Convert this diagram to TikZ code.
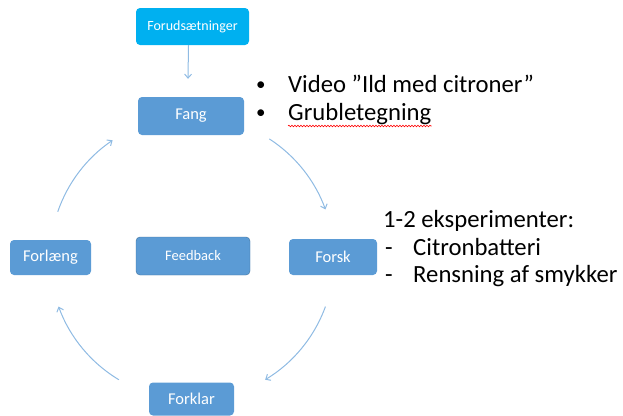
\documentclass[tikz,border=0pt]{standalone}
\usepackage{fontspec}
\setmainfont{Carlito}
\usepackage{xcolor}
\usetikzlibrary{shapes.geometric, arrows.meta, decorations.pathmorphing}
\definecolor{boxblue}{HTML}{5B9BD5}
\definecolor{topblue}{HTML}{00B0F0}
\definecolor{edgeblue}{HTML}{41719C}
\definecolor{lineblue}{HTML}{8FBBE3}
\tikzstyle{phase} = [rectangle, rounded corners=4pt, minimum width=86pt, minimum height=35pt, text centered, fill=boxblue, text=white, font=\fontsize{16.5}{18}\selectfont]
\tikzstyle{startbox} = [rectangle, rounded corners=4pt, minimum width=113pt, minimum height=37pt, text centered, fill=topblue, text=white, font=\fontsize{14}{16}\selectfont]
\tikzstyle{hubbox} = [phase, draw=edgeblue, minimum width=114pt, minimum height=38pt, font=\fontsize{14.5}{16}\selectfont]
\tikzstyle{notes} = [anchor=base west, inner sep=0pt, font=\fontsize{24.7}{28}\selectfont]
\tikzstyle{dot} = [notes, font=\fontsize{19}{22}\selectfont]
\tikzstyle{arrow} = [line width=1pt, draw=lineblue, -{Straight Barb[length=4pt,width=7pt]}]

\begin{document}
\begin{tikzpicture}[x=1pt, y=1pt]
  \useasboundingbox (0,0) rectangle (623,-415);

  \node (forud)    [startbox] at (192.5,-26.5) {Forudsætninger};
  \node (fang)     [phase, minimum width=106pt, minimum height=38pt] at (191,-116) {Fang};
  \node (forsk)    [phase, minimum width=88pt, minimum height=36pt] at (333,-257) {Forsk};
  \node (forklar)  [phase, minimum width=85pt, minimum height=33pt] at (191.5,-399) {Forklar};
  \node (forlaeng) [phase, minimum width=81pt, minimum height=35pt] at (50.5,-257.5) {Forlæng};
  \node (feedback) [hubbox] at (193,-256) {Feedback};
  \coordinate (hub) at (192,-258);

  \draw [arrow] ([xshift=-4pt]forud.south) -- ([xshift=-3pt,yshift=18pt]fang.north);

  % the four steps round the circle
  \draw [arrow] ([shift={(57:142)}]hub)  arc (57:20:142);
  \draw [arrow] ([shift={(-20:142)}]hub) arc (-20:-59:142);
  \draw [arrow] ([shift={(-121:142)}]hub) arc (-121:-160:142);
  \draw [arrow] ([shift={(161:142)}]hub) arc (161:124:142);

  % notes
  \node (dot1)  [dot] at (256,-90) {•};
  \node (video) [notes] at (288,-92) {Video ”Ild med citroner”};
  \node (dot2)  [dot] at (256,-118) {•};
  \node (grub)  [notes] at (288,-120) {Grubletegning};
  \draw [red, line width=0.6pt, decorate, decoration={snake, amplitude=0.8pt, segment length=3pt}]
    ([yshift=-6pt]grub.base west) -- ([yshift=-6pt]grub.base east);

  \node (eksp)  [notes] at (383,-227) {1-2 eksperimenter:};
  \node (dash1) [notes] at (385,-255) {-};
  \node (citr)  [notes] at (413,-255) {Citronbatteri};
  \node (dash2) [notes] at (385,-282) {-};
  \node (rens)  [notes] at (413,-282) {Rensning af smykker};
\end{tikzpicture}
\end{document}
